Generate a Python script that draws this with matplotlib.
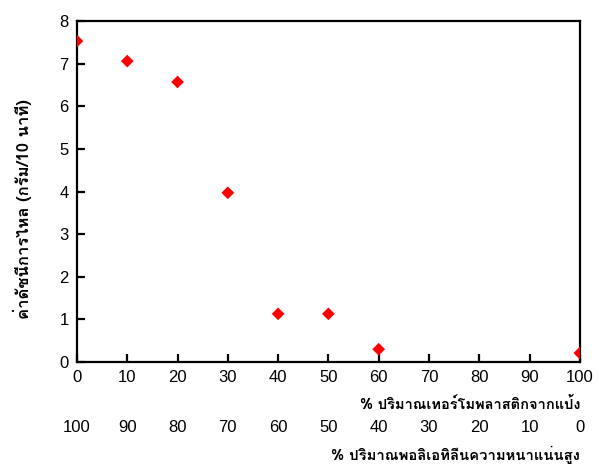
import matplotlib
matplotlib.use("Agg")
import matplotlib.pyplot as plt
from matplotlib import font_manager
from matplotlib.transforms import blended_transform_factory

# ---- data ----
starch_pct = [0, 10, 20, 30, 40, 50, 60, 100]
mfi = [7.53, 7.06, 6.57, 3.97, 1.13, 1.13, 0.30, 0.21]
x_ticks = [0, 10, 20, 30, 40, 50, 60, 70, 80, 90, 100]
x_ticklabels2 = ["100", "90", "80", "70", "60", "50", "40", "30", "20", "10", "0"]
y_ticks = [0, 1, 2, 3, 4, 5, 6, 7, 8]
ylabel = "ค่าดัชนีการไหล (กรัม/10 นาที)"
xlabel1 = "% ปริมาณเทอร์โมพลาสติกจากแป้ง"
xlabel2 = "% ปริมาณพอลิเอทิลีนความหนาแน่นสูง"

# find a font with Thai glyphs
thai_font = None
try:
    from fontTools.ttLib import TTFont
    for f in font_manager.fontManager.ttflist:
        try:
            tt = TTFont(f.fname, fontNumber=0, lazy=True)
            cmap = tt.getBestCmap()
            if cmap and 0x0E01 in cmap and 0x0E48 in cmap:
                thai_font = f.name
                break
        except Exception:
            pass
except Exception:
    pass

base = "Liberation Sans"
fam = [base, "DejaVu Sans"] if thai_font is None else [thai_font, base, "DejaVu Sans"]
plt.rcParams['font.family'] = [base, "DejaVu Sans"]

fig = plt.figure(figsize=(5.99, 4.67), dpi=100)
ax = fig.add_axes([0.1285, 0.2248, 0.968 - 0.1285, 0.955 - 0.2248])

ax.scatter(starch_pct, mfi, marker='D', s=42, color='#ff0000', edgecolors='none',
           zorder=3, clip_on=True)
ax.set_xlim(0, 100)
ax.set_ylim(0, 8)
ax.set_xticks(x_ticks)
ax.set_yticks(y_ticks)
for s in ax.spines.values():
    s.set_linewidth(1.6)
ax.tick_params(direction='in', length=6, width=1.6, labelsize=12, pad=6,
               top=False, right=False)

tr = blended_transform_factory(ax.transData, fig.transFigure)
for xv, lab in zip(x_ticks, x_ticklabels2):
    ax.text(xv, 1 - 427 / 467, lab, transform=tr, ha='center', va='center', fontsize=12)

fig.text(580 / 599, 1 - 404 / 467, xlabel1, ha='right', va='center', fontsize=10.5,
         fontweight='bold', family=fam)
fig.text(580 / 599, 1 - 455 / 467, xlabel2, ha='right', va='center', fontsize=10.7,
         fontweight='bold', family=fam)
fig.text(22 / 599, 1 - 209 / 467, ylabel, rotation=90, ha='center', va='center',
         fontsize=12, fontweight='bold', family=fam)

fig.savefig("out.png", dpi=100)
